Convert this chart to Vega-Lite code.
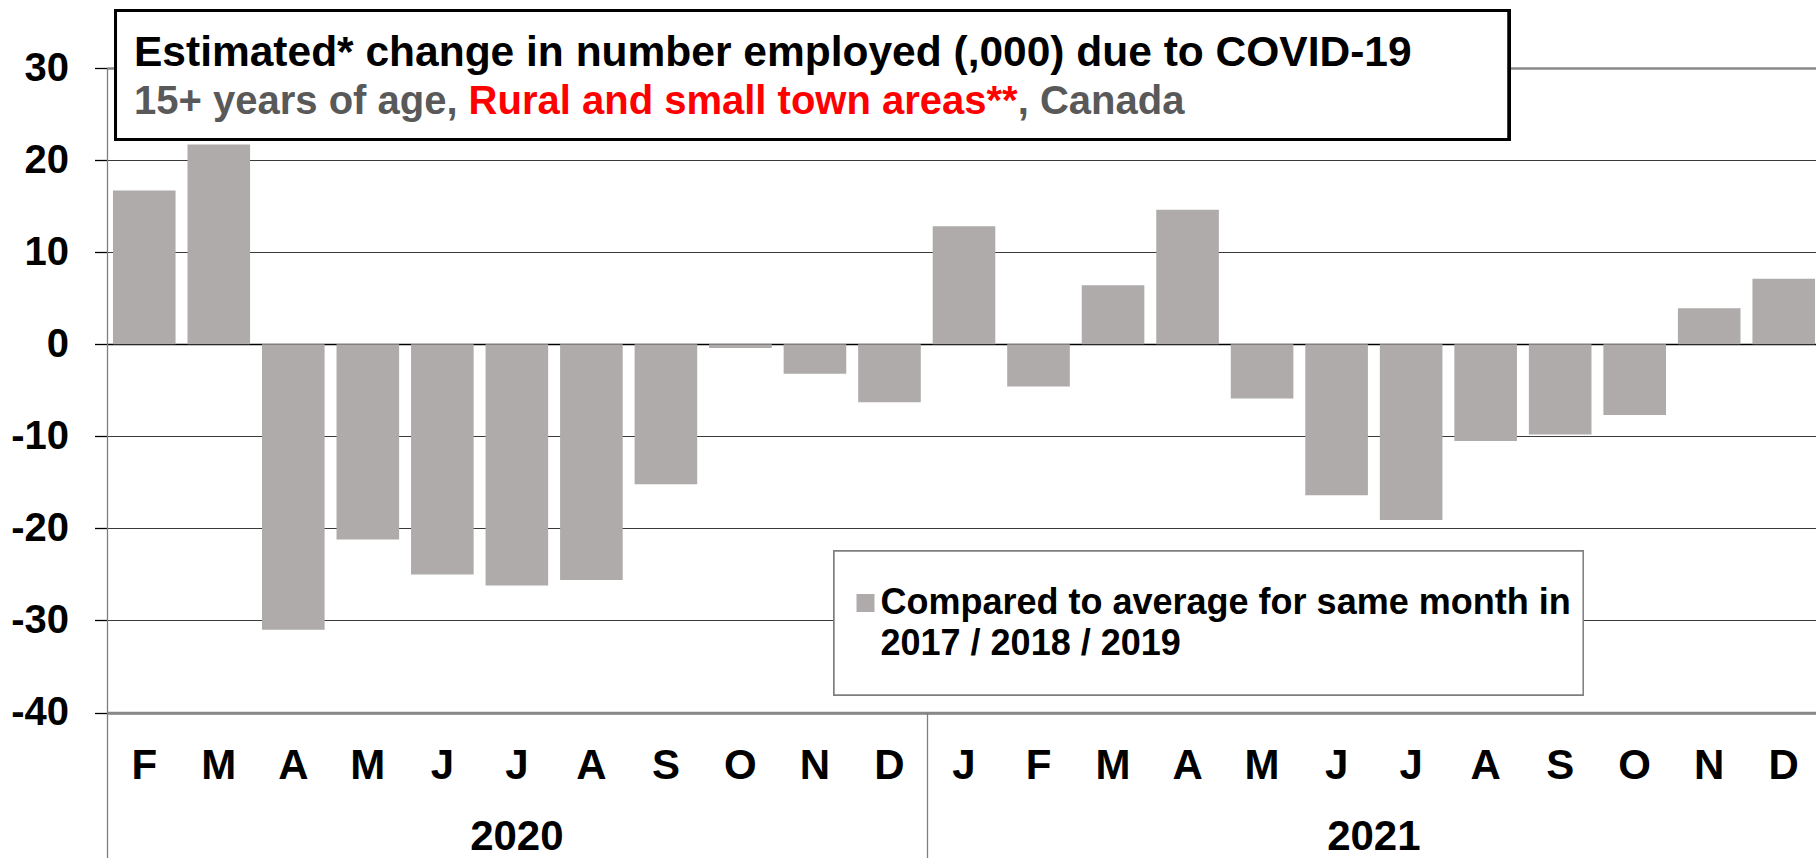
{
  "$schema": "https://vega.github.io/schema/vega-lite/v6.json",
  "width": 1709,
  "height": 644.5,
  "autosize": "none",
  "padding": {"left": 107, "top": 68, "right": 0, "bottom": 145.5},
  "background": "white",
  "config": {"view": {"stroke": null}, "font": "Liberation Sans", "style": {"guide-label": {"lineHeight": 41}}},
  "data": {
    "values": [
      {"ym": "2020-02", "value": 16.7},
      {"ym": "2020-03", "value": 21.7},
      {"ym": "2020-04", "value": -31.0},
      {"ym": "2020-05", "value": -21.2},
      {"ym": "2020-06", "value": -25.0},
      {"ym": "2020-07", "value": -26.2},
      {"ym": "2020-08", "value": -25.6},
      {"ym": "2020-09", "value": -15.2},
      {"ym": "2020-10", "value": -0.4},
      {"ym": "2020-11", "value": -3.2},
      {"ym": "2020-12", "value": -6.3},
      {"ym": "2021-01", "value": 12.8},
      {"ym": "2021-02", "value": -4.6},
      {"ym": "2021-03", "value": 6.4},
      {"ym": "2021-04", "value": 14.6},
      {"ym": "2021-05", "value": -5.9},
      {"ym": "2021-06", "value": -16.4},
      {"ym": "2021-07", "value": -19.1},
      {"ym": "2021-08", "value": -10.5},
      {"ym": "2021-09", "value": -9.8},
      {"ym": "2021-10", "value": -7.7},
      {"ym": "2021-11", "value": 3.9},
      {"ym": "2021-12", "value": 7.1}
    ]
  },
  "resolve": {"scale": {"x": "shared", "y": "shared"}, "axis": {"x": "independent", "y": "independent"}},
  "layer": [
    {
      "mark": {"type": "bar", "color": "#AEABAA"},
      "encoding": {
        "x": {
          "field": "ym", "type": "nominal",
          "scale": {"type": "band", "domain": ["2020-02","2020-03","2020-04","2020-05","2020-06","2020-07","2020-08","2020-09","2020-10","2020-11","2020-12","2021-01","2021-02","2021-03","2021-04","2021-05","2021-06","2021-07","2021-08","2021-09","2021-10","2021-11","2021-12"], "range": [0, 1714], "paddingInner": 0.16, "paddingOuter": 0.08},
          "axis": {"orient": "bottom", "title": null, "ticks": false, "grid": false, "domain": true, "domainColor": "#888888", "domainWidth": 2.5, "labelAngle": 0, "labelPadding": 33, "labelFont": "Liberation Sans", "labelFontSize": 42, "labelFontWeight": "bold", "labelColor": "#000000", "labelOverlap": false, "labelExpr": "['J','F','M','A','M','J','J','A','S','O','N','D'][toNumber(substring(datum.value, 5, 7)) - 1]", "zindex": 0}
        },
        "y": {
          "field": "value", "type": "quantitative",
          "scale": {"domain": [-40, 30], "nice": false, "zero": false},
          "axis": {"orient": "left", "title": null, "values": [-40, -30, -20, -10, 0, 10, 20, 30], "grid": true,
            "gridColor": {"condition": [{"test": "datum.value === 0", "value": "#000000"}, {"test": "datum.value === 30 || datum.value === -40", "value": "#898989"}], "value": "#3a3a3a"},
            "gridWidth": {"condition": [{"test": "datum.value === 0", "value": 1.5}, {"test": "datum.value === 30 || datum.value === -40", "value": 2.5}], "value": 1.2},
            "domain": true, "domainColor": "#7f7f7f", "domainWidth": 1.3, "ticks": true, "tickSize": 12.5, "tickColor": "#000000", "tickWidth": 1.3,
            "labelExpr": "'' + datum.value",
            "labelPadding": 26, "labelFont": "Liberation Sans", "labelFontSize": 40, "labelFontWeight": "bold", "labelColor": "#000000", "zindex": 0}
        },
        "color": {
          "datum": "Compared to average for same month in 2017 / 2018 / 2019", "type": "nominal",
          "scale": {"range": ["#AEABAA"]},
          "legend": {"orient": "none", "legendX": 740.5, "legendY": 517, "title": null, "padding": 0,
            "symbolType": "M-1,-1H1V1H-1Z", "symbolSize": 324, "symbolStrokeWidth": 0, "symbolOpacity": 1,
            "labelOffset": -3, "labelFont": "Liberation Sans", "labelFontSize": 36, "labelFontWeight": "bold", "labelColor": "#000000", "labelLimit": 2000,
            "labelExpr": "['Compared to average for same month in', '2017 / 2018 / 2019']",
            "encode": {"labels": {"update": {"lineHeight": {"value": 41}}}},
            "zindex": 1}
        }
      }
    },
    {
      "mark": {"type": "rect", "fill": "#ffffff", "stroke": "#000000", "strokeWidth": 3},
      "encoding": {
        "x": {"datum": "2020-02", "type": "nominal", "bandPosition": 0.041,
          "axis": {"orient": "bottom", "values": ["2020-02", "2021-01"], "bandPosition": 0, "tickOffset": -5.96, "labels": false, "domain": false, "grid": false, "ticks": true, "tickSize": 145.5, "tickColor": "#7f7f7f", "tickWidth": 1.3,
            "title": "15+ years of age,", "titleX": 26.5, "titleY": -599.5, "titleAlign": "left", "titleBaseline": "alphabetic", "titleAngle": 0, "titleFont": "Liberation Sans", "titleFontSize": 40, "titleFontWeight": "bold", "titleColor": "#595959", "titleLimit": 3000, "zindex": 1}},
        "x2": {"datum": "2021-08", "bandPosition": 0.869},
        "y": {"datum": 36.25, "type": "quantitative",
          "axis": {"orient": "left", "labels": false, "ticks": false, "domain": false, "grid": false,
            "title": "Estimated* change in number employed (,000) due to COVID-19", "titleX": 26.5, "titleY": -2.3, "titleAngle": 0, "titleAlign": "left", "titleBaseline": "alphabetic", "titleFont": "Liberation Sans", "titleFontSize": 42.5, "titleFontWeight": "bold", "titleColor": "#000000", "titleLimit": 3000, "zindex": 1}},
        "y2": {"datum": 22.23}
      }
    },
    {
      "mark": {"type": "rect", "fill": "#ffffff", "stroke": "#7f7f7f", "strokeWidth": 1.3},
      "encoding": {
        "x": {"datum": "2020-11", "type": "nominal", "bandPosition": 0.805,
          "axis": {"orient": "bottom", "values": ["2020-07", "2021-06"], "labelExpr": "substring(datum.value, 0, 4)",
            "labelOffset": {"condition": {"test": "datum.value === '2021-06'", "value": 37.26}, "value": 0},
            "labelPadding": 104, "labelAngle": 0, "labelFont": "Liberation Sans", "labelFontSize": 42, "labelFontWeight": "bold", "labelColor": "#000000",
            "ticks": false, "domain": false, "grid": false,
            "title": "Rural and small town areas**", "titleX": 361.1, "titleY": -599.5, "titleAlign": "left", "titleBaseline": "alphabetic", "titleAngle": 0, "titleFont": "Liberation Sans", "titleFontSize": 40, "titleFontWeight": "bold", "titleColor": "#FF0000", "titleLimit": 3000, "zindex": 1}},
        "x2": {"datum": "2021-09", "bandPosition": 0.866},
        "y": {"datum": -22.46, "type": "quantitative",
          "axis": {"orient": "right", "labels": false, "ticks": false, "domain": false, "grid": false,
            "title": ", Canada", "titleX": -798.8, "titleY": 45, "titleAngle": 0, "titleAlign": "left", "titleBaseline": "alphabetic", "titleFont": "Liberation Sans", "titleFontSize": 40, "titleFontWeight": "bold", "titleColor": "#595959", "titleLimit": 3000, "zindex": 1}},
        "y2": {"datum": -38.10}
      }
    }
  ]
}
